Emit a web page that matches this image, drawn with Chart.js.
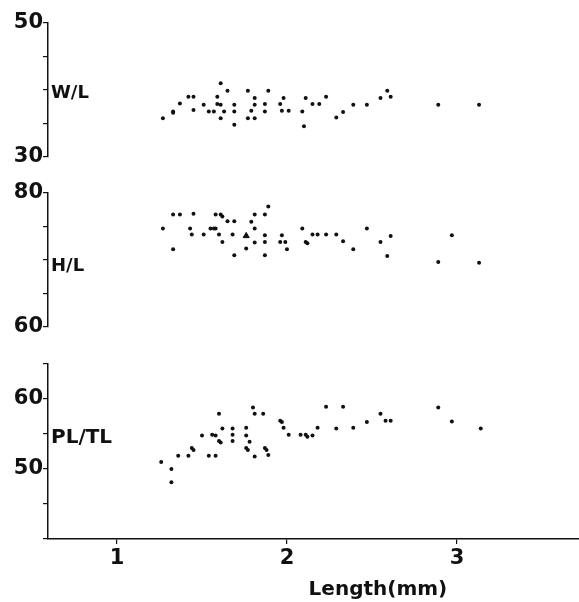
<!DOCTYPE html>
<html>
<head>
<meta charset="utf-8">
<script src="https://cdn.jsdelivr.net/npm/chart.js@4"></script>
<style>
    body { margin: 0; background: #fff; }
    #wrap { position: relative; width: 579px; height: 602px; }
    #wrap canvas { position: absolute; left: 0; }
</style>
</head>
<body>
<div id="wrap">
    <canvas id="wlChart" width="579" height="180" style="top:0px"></canvas>
    <canvas id="hlChart" width="579" height="175" style="top:170px"></canvas>
    <canvas id="plChart" width="579" height="262" style="top:340px"></canvas>
</div>
<script>
// shell length (mm) against ratios, one panel per ratio
const wlLength = [1.27, 1.33, 1.33, 1.37, 1.42, 1.45, 1.45, 1.51, 1.54, 1.57, 1.59, 1.61, 1.59, 1.61, 1.61, 1.63,
    1.65, 1.69, 1.69, 1.69, 1.77, 1.77, 1.79, 1.81, 1.81, 1.81, 1.87, 1.87, 1.89, 1.96, 1.97, 1.98, 2.01, 2.09,
    2.10, 2.11, 2.15, 2.19, 2.23, 2.29, 2.33, 2.39, 2.47, 2.55, 2.59, 2.61, 2.89, 3.13];
const wlRatio = [35.8, 36.8, 36.6, 38.0, 39.0, 39.0, 37.0, 37.8, 36.8, 36.8, 39.0, 41.0, 37.9, 37.8, 35.8, 36.8,
    39.9, 37.8, 36.8, 34.8, 39.9, 35.8, 36.9, 38.8, 37.8, 35.8, 37.9, 36.8, 39.9, 37.9, 36.9, 38.8, 36.9, 36.8,
    34.6, 38.8, 37.9, 37.9, 39.0, 35.9, 36.7, 37.8, 37.8, 38.8, 39.9, 39.0, 37.8, 37.8];

const hlLength = [1.27, 1.33, 1.37, 1.33, 1.43, 1.44, 1.45, 1.51, 1.55, 1.57, 1.58, 1.58, 1.61, 1.62, 1.60, 1.62,
    1.65, 1.69, 1.68, 1.69, 1.76, 1.79, 1.81, 1.81, 1.81, 1.87, 1.87, 1.87, 1.87, 1.89, 1.97, 1.96, 1.99, 2.00,
    2.09, 2.11, 2.12, 2.15, 2.18, 2.23, 2.29, 2.33, 2.39, 2.47, 2.55, 2.61, 2.59, 2.89, 2.97, 3.13];
const hlRatio = [74.7, 76.8, 76.8, 71.6, 74.7, 73.8, 76.9, 73.8, 74.7, 74.7, 74.7, 76.8, 76.8, 76.5, 73.8, 72.7,
    75.8, 75.8, 73.8, 70.7, 71.7, 75.7, 76.8, 74.7, 72.6, 76.8, 73.7, 72.7, 70.7, 78.0, 73.7, 72.7, 72.7, 71.6,
    74.7, 72.7, 72.5, 73.8, 73.8, 73.8, 73.8, 72.8, 71.6, 74.7, 72.7, 73.6, 70.6, 69.7, 73.7, 69.6];
// the one specimen marked with a triangle
const hlTriLength = [1.76];
const hlTriRatio = [73.6];

const plLength = [1.26, 1.32, 1.32, 1.36, 1.42, 1.44, 1.45, 1.50, 1.54, 1.56, 1.58, 1.58, 1.60, 1.60, 1.61, 1.62,
    1.68, 1.68, 1.68, 1.76, 1.76, 1.78, 1.76, 1.77, 1.80, 1.81, 1.81, 1.86, 1.87, 1.88, 1.89, 1.96, 1.97, 1.98,
    2.01, 2.08, 2.11, 2.12, 2.15, 2.18, 2.23, 2.29, 2.33, 2.39, 2.47, 2.55, 2.58, 2.61, 2.89, 2.97, 3.14];
const plRatio = [51.0, 50.0, 48.1, 51.9, 51.9, 53.0, 52.7, 54.8, 51.9, 54.9, 54.8, 51.9, 57.9, 54.0, 53.8, 55.8,
    55.8, 54.9, 54.0, 55.9, 54.8, 53.9, 53.0, 52.7, 58.8, 57.9, 51.8, 57.9, 53.0, 52.7, 52.0, 56.9, 56.7, 55.9,
    54.9, 54.9, 54.9, 54.6, 54.8, 55.9, 58.9, 55.8, 58.9, 55.9, 56.7, 57.9, 56.9, 56.9, 58.8, 56.8, 55.8];

const xTicks = [1, 2, 3];
const wlTickLabels = [30, 50];
const hlTickLabels = [60, 80];
const plTickLabels = [50, 60];

const X_MIN = 0.594;
const X_MAX = 3.718;
const INK = '#111';

Chart.defaults.font.family = "'DejaVu Sans', sans-serif";
Chart.defaults.font.weight = 'bold';
Chart.defaults.color = INK;

function toPoints(xs, ys) {
    return xs.map((x, i) => ({ x: x, y: ys[i] }));
}

function dots(xs, ys, style) {
    const tri = style === 'triangle';
    return {
        data: toPoints(xs, ys),
        pointStyle: style || 'circle',
        pointRadius: tri ? 3.5 : 2,
        pointBackgroundColor: INK,
        pointBorderColor: INK,
        pointBorderWidth: tri ? 1 : 0,
        showLine: false
    };
}

// writes the ratio name inside the panel and, for the bottom one, the axis title
function textPlugin(texts) {
    return {
        id: 'panelText',
        afterDraw(chart) {
            const ctx = chart.ctx;
            ctx.save();
            ctx.fillStyle = INK;
            ctx.textBaseline = 'middle';
            texts.forEach(t => {
                ctx.font = 'bold ' + t.size + 'px "DejaVu Sans"';
                ctx.textAlign = t.align || 'left';
                const x = t.atValue ? chart.scales.x.getPixelForValue(t.atValue) : chart.chartArea.left + 3;
                const y = t.atY != null ? chart.scales.y.getPixelForValue(t.atY) : t.y;
                ctx.fillText(t.text, x, y);
            });
            ctx.restore();
        }
    };
}

function makePanel(id, cfg) {
    const ctx = document.getElementById(id).getContext('2d');
    return new Chart(ctx, {
        type: 'scatter',
        data: { datasets: cfg.datasets },
        options: {
            responsive: false,
            animation: false,
            devicePixelRatio: 1,
            layout: {
                autoPadding: false,
                padding: { top: cfg.padTop, bottom: cfg.padBottom, left: 0, right: 0 }
            },
            plugins: { legend: { display: false }, tooltip: { enabled: false } },
            scales: {
                x: {
                    type: 'linear',
                    min: X_MIN,
                    max: X_MAX,
                    display: cfg.showX,
                    afterBuildTicks: axis => { axis.ticks = xTicks.map(v => ({ value: v })); },
                    afterFit: axis => {
                        // fixed band below the plot, no extra side padding
                        axis.height = cfg.showX ? 63 : 0;
                        axis.paddingLeft = 0;
                        axis.paddingRight = 0;
                    },
                    ticks: { font: { size: 21 }, padding: 2, maxRotation: 0 },
                    grid: { drawOnChartArea: false, tickLength: 5, color: INK, lineWidth: 1.2 },
                    border: { color: INK, width: 1.5 }
                },
                y: {
                    min: cfg.yMin,
                    max: cfg.yMax,
                    afterFit: axis => {
                        axis.width = 48;
                        axis.paddingTop = 0;
                        axis.paddingBottom = 0;
                    },
                    ticks: {
                        stepSize: 5,
                        autoSkip: false,
                        padding: 0,
                        font: { size: 21 },
                        callback: v => cfg.labels.includes(v) ? String(v) : ''
                    },
                    grid: { drawOnChartArea: false, tickLength: 5, color: INK, lineWidth: 1.2 },
                    border: { color: INK, width: 1.5 }
                }
            }
        },
        plugins: [textPlugin(cfg.texts)]
    });
}

makePanel('wlChart', {
    datasets: [dots(wlLength, wlRatio)],
    yMin: 30, yMax: 50, labels: wlTickLabels,
    padTop: 23, padBottom: 23, showX: false,
    texts: [{ text: 'W/L', size: 18, atY: 39.5 }]
});

makePanel('hlChart', {
    datasets: [dots(hlLength, hlRatio), dots(hlTriLength, hlTriRatio, 'triangle')],
    yMin: 60, yMax: 80, labels: hlTickLabels,
    padTop: 23, padBottom: 18, showX: false,
    texts: [{ text: 'H/L', size: 18, atY: 69 }]
});

makePanel('plChart', {
    datasets: [dots(plLength, plRatio)],
    yMin: 40, yMax: 65, labels: plTickLabels,
    padTop: 24, padBottom: 0, showX: true,
    texts: [
        { text: 'PL/TL', size: 20, atY: 54.5 },
        { text: 'Length(mm)', size: 20, atValue: 2.535, align: 'center', y: 250 }
    ]
});
</script>
</body>
</html>
